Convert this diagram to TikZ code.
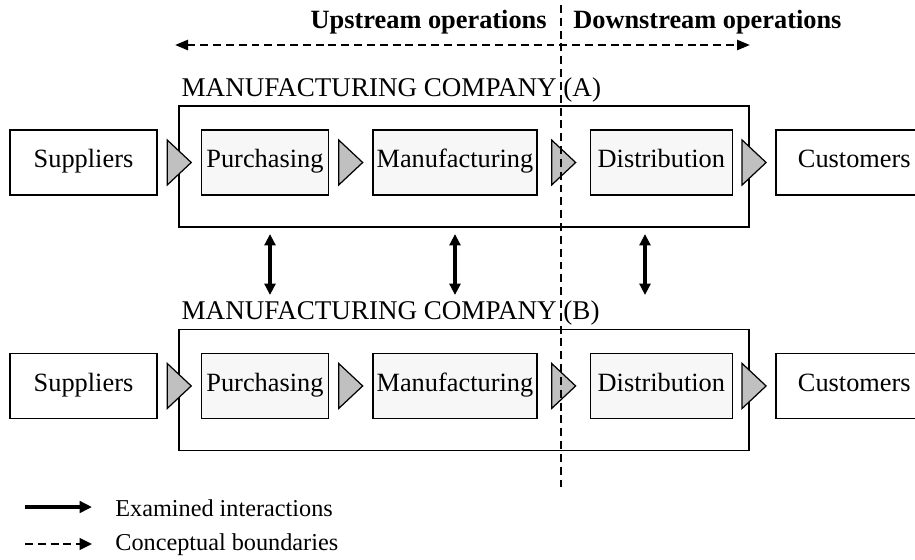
\documentclass[tikz,border=0pt]{standalone}
\usepackage{fontspec}
\setmainfont{Liberation Serif}
\usetikzlibrary{arrows.meta, positioning, calc}
\definecolor{trigray}{RGB}{192,192,192}
\definecolor{dotfill}{RGB}{247,247,247}

\begin{document}
\begin{tikzpicture}[x = 0.02cm, y = -0.02cm, node distance = 0.86cm,
    box/.style = {draw, line width = 0.85pt, minimum height = 1.3cm, inner sep = 0pt, text height = 0.84em, text depth = 0.22em, font = \fontsize{15}{18}\selectfont},
    stage/.style = {box, fill = dotfill},
    company/.style = {draw, line width = 0.85pt, minimum width = 11.4cm, minimum height = 2.42cm, inner sep = 0pt},
    complabel/.style = {anchor = base west, inner sep = 0pt, font = \fontsize{15.4}{18}\selectfont},
    flowtri/.style = {draw, line width = 0.7pt, fill = trigray, line join = miter},
    boundary/.style = {line width = 1.4pt, dash pattern = on 4.5pt off 2.8pt},
    interact/.style = {line width = 2.2pt, {Triangle[length = 6.5pt, width = 6.2pt]}-{Triangle[length = 6.5pt, width = 6.2pt]}},
    heading/.style = {inner sep = 0pt, font = \fontsize{15}{18}\selectfont\bfseries},
    legend/.style = {anchor = west, inner sep = 0pt, font = \fontsize{13.8}{16}\selectfont}]
    \useasboundingbox (0,0) rectangle (915,559);

    % company A
    \node[company] (compA) at (464,166.5) {};
    \node[complabel] (labA) at ([xshift = 0.06cm, yshift = 0.18cm]compA.north west) {MANUFACTURING COMPANY (A)};
    \node[box, minimum width = 2.94cm] (sup1) at (83.5,162.5) {Suppliers};
    \node[stage, minimum width = 2.54cm] (pur1) [right = of sup1] {Purchasing};
    \node[stage, minimum width = 3.28cm] (man1) [right = of pur1] {Manufacturing};
    \node[stage, minimum width = 2.84cm] (dis1) [right = 1.04cm of man1] {Distribution};
    \node[box, minimum width = 3.14cm] (cus1) [right = 0.84cm of dis1] {Customers};

    % company B
    \node[company] (compB) [below = 2.02cm of compA] {};
    \node[complabel] (labB) at ([xshift = 0.06cm, yshift = 0.18cm]compB.north west) {MANUFACTURING COMPANY (B)};
    \node[box, minimum width = 2.94cm] (sup2) [below = 3.14cm of sup1] {Suppliers};
    \node[stage, minimum width = 2.54cm] (pur2) [right = of sup2] {Purchasing};
    \node[stage, minimum width = 3.28cm] (man2) [right = of pur2] {Manufacturing};
    \node[stage, minimum width = 2.84cm] (dis2) [right = 1.04cm of man2] {Distribution};
    \node[box, minimum width = 3.14cm] (cus2) [right = 0.84cm of dis2] {Customers};

    % flow triangles
    \foreach \a/\b in {sup1/pur1, pur1/man1, man1/dis1, dis1/cus1, sup2/pur2, pur2/man2, man2/dis2, dis2/cus2}
        \draw[flowtri] ($(\a.east)!0.5!(\b.west)$) ++(-12,-22.5) -- ++(24,22.5) -- ++(-24,22.5) -- cycle;

    % interactions between A and B
    \foreach \x [count = \i] in {270,455,645} {
        \coordinate (itop\i) at (\x,234);
        \coordinate (ibot\i) at (\x,295);
        \draw[interact] (itop\i) -- (ibot\i);
    }

    % boundaries
    \node[heading, anchor = base east] (up) at (547,28) {Upstream operations};
    \node[heading, anchor = base west] (down) at (573,28) {Downstream operations};
    \coordinate (bndL) at (175,45);
    \coordinate (bndR) at (750,45);
    \draw[boundary, {Triangle[length = 7.4pt, width = 5.7pt]}-{Triangle[length = 7.4pt, width = 5.7pt]}] (bndL) -- (bndR);
    \coordinate (divtop) at (561,5);
    \coordinate (divbot) at (561,490);
    \draw[boundary] (divtop) -- (divbot);

    % legend
    \coordinate (lgA) at (25,507);
    \coordinate (lgB) at (92,507);
    \draw[line width = 2.2pt, -{Triangle[length = 7pt, width = 6.5pt]}] (lgA) -- (lgB);
    \node[legend] (lg1) at (115,508) {Examined interactions};
    \coordinate (lgC) at (25,544);
    \coordinate (lgD) at (92,544);
    \draw[boundary, -{Triangle[length = 7pt, width = 6.5pt]}] (lgC) -- (lgD);
    \node[legend] (lg2) at (115,545) {Conceptual boundaries};
\end{tikzpicture}
\end{document}
